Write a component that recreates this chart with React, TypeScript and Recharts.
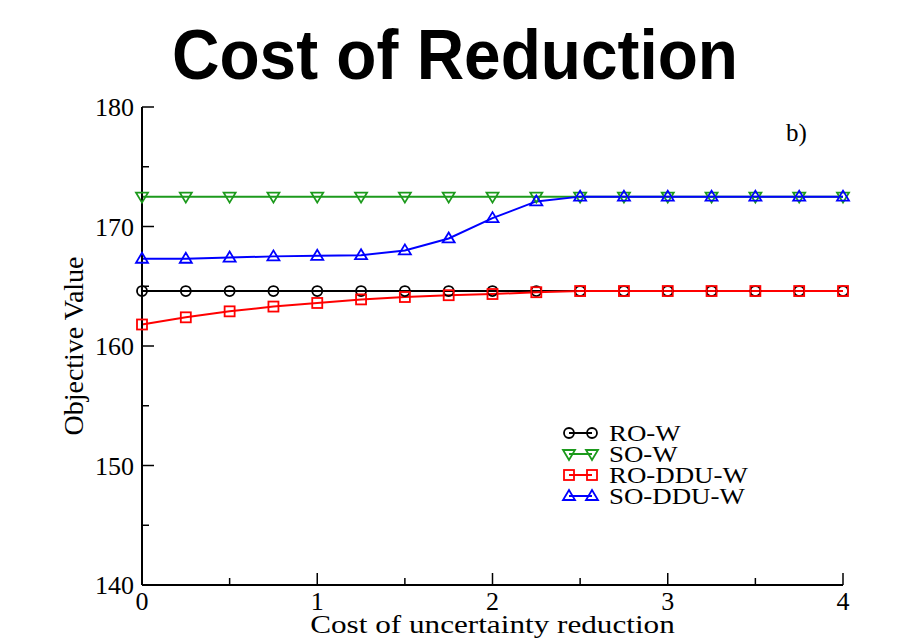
import React from 'react';
import { LineChart, Line, XAxis, YAxis, Legend } from 'recharts';

// ---- data ----
const xValues = [0, 0.25, 0.5, 0.75, 1, 1.25, 1.5, 1.75, 2, 2.25, 2.5, 2.75, 3, 3.25, 3.5, 3.75, 4];
const roW = [164.6, 164.6, 164.6, 164.6, 164.6, 164.6, 164.6, 164.6, 164.6, 164.6, 164.6, 164.6, 164.6, 164.6, 164.6, 164.6, 164.6];
const soW = [172.5, 172.5, 172.5, 172.5, 172.5, 172.5, 172.5, 172.5, 172.5, 172.5, 172.5, 172.5, 172.5, 172.5, 172.5, 172.5, 172.5];
const roDduW = [161.8, 162.4, 162.9, 163.3, 163.6, 163.9, 164.1, 164.25, 164.35, 164.5, 164.6, 164.6, 164.6, 164.6, 164.6, 164.6, 164.6];
const soDduW = [167.3, 167.3, 167.4, 167.5, 167.55, 167.6, 168.0, 169.0, 170.7, 172.1, 172.5, 172.5, 172.5, 172.5, 172.5, 172.5, 172.5];
const xTicks = [0, 0.5, 1, 1.5, 2, 2.5, 3, 3.5, 4];
const yTicks = [140, 145, 150, 155, 160, 165, 170, 175, 180];
const titleText = 'Cost of Reduction';
const xLabelText = 'Cost of uncertainty reduction';
const yLabelText = 'Objective Value';
const panelText = 'b)';

const series = [
  { key: 'roW', name: 'RO-W', color: '#000000', marker: 'circle' },
  { key: 'soW', name: 'SO-W', color: '#1c9a1c', marker: 'down' },
  { key: 'roDduW', name: 'RO-DDU-W', color: '#ff0000', marker: 'square' },
  { key: 'soDduW', name: 'SO-DDU-W', color: '#0000ff', marker: 'up' },
];

const data = xValues.map((x, i) => ({
  x,
  roW: roW[i],
  soW: soW[i],
  roDduW: roDduW[i],
  soDduW: soDduW[i],
}));

const SERIF = 'Liberation Serif';
const SANS = 'Liberation Sans';

function Marker({ cx, cy, type, color }: { cx: number; cy: number; type: string; color: string }) {
  const sw = 1.8;
  if (type === 'circle') return <circle cx={cx} cy={cy} r={5} fill="none" stroke={color} strokeWidth={sw} />;
  if (type === 'square') return <rect x={cx - 5} y={cy - 5} width={10} height={10} fill="none" stroke={color} strokeWidth={sw} />;
  if (type === 'down')
    return <polygon points={`${cx - 6},${cy - 4} ${cx + 6},${cy - 4} ${cx},${cy + 6}`} fill="none" stroke={color} strokeWidth={sw} />;
  return <polygon points={`${cx - 6},${cy + 4} ${cx + 6},${cy + 4} ${cx},${cy - 6}`} fill="none" stroke={color} strokeWidth={sw} />;
}

const XTick = (props: any) => {
  const { x, y, payload } = props;
  const v = payload.value;
  const major = Number.isInteger(v);
  return (
    <g>
      <line x1={x} y1={y} x2={x} y2={y - (major ? 12 : 7)} stroke="#000" strokeWidth={1.5} />
      {major && (
        <text x={x} y={y + 25} textAnchor="middle" style={{ fontFamily: SERIF, fontSize: 26 }} fill="#000">
          {v}
        </text>
      )}
    </g>
  );
};

const YTick = (props: any) => {
  const { x, y, payload } = props;
  const v = payload.value;
  const major = v % 10 === 0;
  return (
    <g>
      <line x1={x} y1={y} x2={x + (major ? 12 : 7)} y2={y} stroke="#000" strokeWidth={1.5} />
      {major && (
        <text x={x - 8} y={y + 9} textAnchor="end" style={{ fontFamily: SERIF, fontSize: 26 }} fill="#000">
          {v}
        </text>
      )}
    </g>
  );
};

const XLabel = (props: any) => {
  const vb = props.viewBox || {};
  const cx = vb.x + vb.width / 2;
  const cy = vb.y + 48;
  return (
    <g transform={`translate(${cx},${cy}) scale(1.2,1)`}>
      <text x={0} y={0} textAnchor="middle" style={{ fontFamily: SERIF, fontSize: 26 }} fill="#000">
        {xLabelText}
      </text>
    </g>
  );
};

const YLabel = (props: any) => {
  const vb = props.viewBox || {};
  const cx = vb.x + 1;
  const cy = vb.y + vb.height / 2;
  return (
    <text
      x={cx}
      y={cy}
      transform={`rotate(-90, ${cx}, ${cy})`}
      textAnchor="middle"
      style={{ fontFamily: SERIF, fontSize: 28 }}
      fill="#000"
    >
      {yLabelText}
    </text>
  );
};

const LegendBox = () => (
  <svg width={220} height={90} style={{ display: 'block' }}>
    {series.map((s, i) => {
      const cy = 13 + i * 21;
      return (
        <g key={s.key}>
          <line x1={13} y1={cy} x2={36} y2={cy} stroke={s.color} strokeWidth={2} />
          <Marker cx={13} cy={cy} type={s.marker} color={s.color} />
          <Marker cx={36} cy={cy} type={s.marker} color={s.color} />
          <g transform={`translate(53,${cy + 8}) scale(1.12,1)`}>
            <text x={0} y={0} style={{ fontFamily: SERIF, fontSize: 24 }} fill="#000">
              {s.name}
            </text>
          </g>
        </g>
      );
    })}
  </svg>
);

export default function App() {
  return (
    <div style={{ position: 'absolute', left: 0, top: 0, width: 904, height: 639, background: '#fff' }}>
      <LineChart
        width={904}
        height={639}
        data={data}
        margin={{ top: 107, right: 61, bottom: 14, left: 82 }}
      >
        <XAxis
          dataKey="x"
          type="number"
          domain={[0, 4]}
          ticks={xTicks}
          interval={0}
          tickSize={0}
          tickMargin={0}
          tickLine={false}
          tick={<XTick />}
          height={40}
          axisLine={{ stroke: '#000', strokeWidth: 2 }}
          label={<XLabel />}
        />
        <XAxis
          xAxisId="top"
          orientation="top"
          dataKey="x"
          type="number"
          domain={[0, 4]}
          height={0}
          tick={false}
          tickLine={false}
          axisLine={{ stroke: '#555', strokeWidth: 1.5 }}
        />
        <YAxis
          type="number"
          domain={[140, 180]}
          ticks={yTicks}
          interval={0}
          tickSize={0}
          tickMargin={0}
          tickLine={false}
          tick={<YTick />}
          width={60}
          axisLine={{ stroke: '#000', strokeWidth: 2 }}
          label={<YLabel />}
        />
        <YAxis
          yAxisId="right"
          orientation="right"
          type="number"
          domain={[140, 180]}
          width={0}
          tick={false}
          tickLine={false}
          axisLine={{ stroke: '#555', strokeWidth: 1.5 }}
        />
        {series.map((s) => (
          <Line
            key={s.key}
            dataKey={s.key}
            name={s.name}
            stroke={s.color}
            strokeWidth={2}
            isAnimationActive={false}
            dot={(p: any) => <Marker key={`${s.key}-${p.index}`} cx={p.cx} cy={p.cy} type={s.marker} color={s.color} />}
            activeDot={false}
          />
        ))}
        <Legend
          layout="vertical"
          align="center"
          verticalAlign="middle"
          content={() => <LegendBox />}
          wrapperStyle={{ position: 'absolute', left: 556, top: 420, width: 220, height: 90 }}
        />
      </LineChart>
      <svg
        width={904}
        height={639}
        style={{ position: 'absolute', left: 0, top: 0, pointerEvents: 'none' }}
      >
        <text
          x={455}
          y={79}
          textAnchor="middle"
          style={{ fontFamily: SANS, fontWeight: 'bold', fontSize: 70 }}
          textLength={566}
          lengthAdjust="spacingAndGlyphs"
          fill="#000"
        >
          {titleText}
        </text>
        <text x={786} y={141} style={{ fontFamily: SERIF, fontSize: 25 }} fill="#000">
          {panelText}
        </text>
      </svg>
    </div>
  );
}
